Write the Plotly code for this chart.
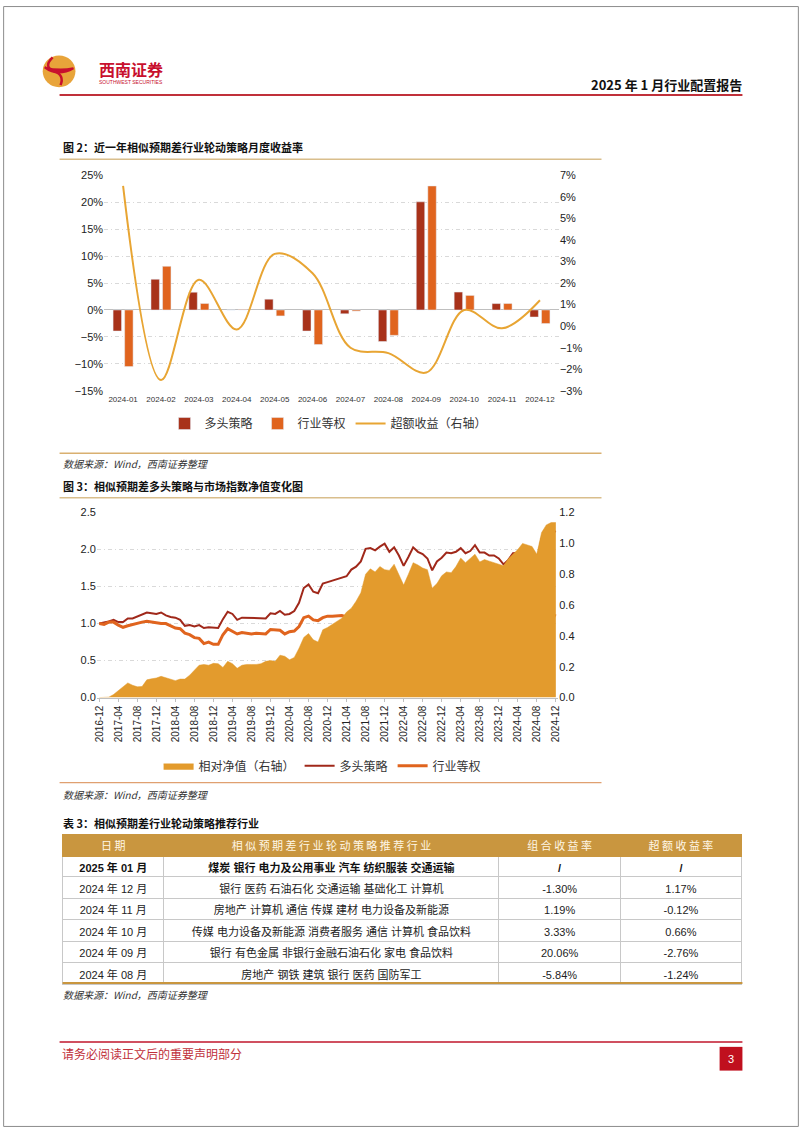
import plotly.graph_objects as go
import pandas as pd

W, H = 802, 1133
def fx(x): return x / W
def fy(y): return 1 - y / H

# ---------------- Chart 1 data (figure 2) ----------------
m_labels = ["2024-01", "2024-02", "2024-03", "2024-04", "2024-05", "2024-06",
            "2024-07", "2024-08", "2024-09", "2024-10", "2024-11", "2024-12"]
long_monthly = [-3.9, 5.7, 3.3, 0.0, 2.0, -3.9, -0.7, -5.84, 20.06, 3.33, 1.19, -1.30]
equal_monthly = [-10.5, 8.1, 1.2, 0.1, -1.1, -6.4, -0.2, -4.7, 23.0, 2.7, 1.2, -2.5]
excess_monthly = [6.5, -2.5, 2.15, -0.15, 3.35, 2.45, -1.0, -1.25, -2.15, 0.75, -0.1, 1.2]

# ---------------- Chart 2 data (figure 3) ----------------
months = pd.period_range("2016-12", "2024-12", freq="M").strftime("%Y-%m").tolist()
long_nav = [
    1.00, 1.01, 1.03, 1.05, 1.02, 1.02, 1.07, 1.07, 1.10, 1.12,
    1.15, 1.14, 1.13, 1.15, 1.11, 1.09, 1.08, 1.05, 0.97, 0.98,
    0.96, 0.98, 0.94, 0.95, 0.94, 0.94, 1.06, 1.16, 1.13, 1.05,
    1.08, 1.08, 1.07, 1.07, 1.07, 1.07, 1.14, 1.13, 1.17, 1.12,
    1.13, 1.17, 1.28, 1.48, 1.53, 1.43, 1.41, 1.54, 1.56, 1.58,
    1.60, 1.63, 1.64, 1.73, 1.77, 1.84, 2.01, 2.02, 1.99, 2.04,
    2.08, 1.97, 2.03, 1.92, 1.78, 1.90, 2.03, 1.97, 1.94, 1.88,
    1.72, 1.84, 1.89, 1.96, 1.95, 1.97, 2.02, 1.95, 1.98, 2.06,
    1.96, 1.96, 1.92, 1.92, 1.88, 1.80, 1.86, 1.95, 1.95, 1.96,
    2.00, 1.91, 1.84, 2.15, 2.24, 2.27, 2.24]
equal_nav = [
    1.00, 0.99, 1.02, 1.02, 0.98, 0.95, 0.97, 0.99, 1.01, 1.02,
    1.03, 1.02, 1.00, 1.00, 1.00, 0.97, 0.94, 0.93, 0.87, 0.85,
    0.81, 0.80, 0.73, 0.75, 0.72, 0.72, 0.85, 0.93, 0.90, 0.86,
    0.88, 0.87, 0.86, 0.87, 0.87, 0.86, 0.92, 0.91, 0.91, 0.86,
    0.89, 0.90, 0.96, 1.08, 1.10, 1.05, 1.04, 1.08, 1.10, 1.10,
    1.10, 1.11, 1.09, 1.11, 1.12, 1.12, 1.14, 1.13, 1.19, 1.18,
    1.24, 1.17, 1.19, 1.12, 1.01, 1.08, 1.12, 1.10, 1.07, 1.04,
    0.99, 1.08, 1.07, 1.13, 1.14, 1.12, 1.09, 1.11, 1.14, 1.09,
    1.07, 1.05, 1.04, 1.05, 1.02, 0.93, 0.98, 0.99, 0.99, 0.97,
    0.95, 0.94, 0.90, 1.06, 1.11, 1.13, 1.10]
relative_nav = [
    0.0, 0.0, 0.003, 0.02, 0.045, 0.075, 0.095, 0.08, 0.07, 0.072,
    0.115, 0.122, 0.127, 0.138, 0.13, 0.12, 0.11, 0.12, 0.12, 0.145,
    0.18, 0.21, 0.215, 0.21, 0.222, 0.22, 0.196, 0.235, 0.22, 0.19,
    0.21, 0.215, 0.215, 0.215, 0.22, 0.235, 0.24, 0.235, 0.275, 0.268,
    0.245, 0.26, 0.32, 0.39, 0.415, 0.375, 0.36, 0.44, 0.455, 0.475,
    0.495, 0.515, 0.555, 0.58, 0.625, 0.68, 0.80, 0.835, 0.815, 0.85,
    0.83, 0.825, 0.865, 0.80, 0.73, 0.80, 0.875, 0.86, 0.84, 0.83,
    0.71, 0.74, 0.79, 0.815, 0.81, 0.85, 0.905, 0.875, 0.90, 0.93,
    0.88, 0.895, 0.885, 0.875, 0.86, 0.855, 0.90, 0.93, 0.96, 1.0,
    0.99, 0.98, 0.93, 1.07, 1.12, 1.135, 1.135]

# ---------------- Table data ----------------
tbl_header = ["日 期", "相 似 预 期 差 行 业 轮 动 策 略 推 荐 行 业", "组 合 收 益 率", "超 额 收 益 率"]
tbl_dates = ["2025 年 01 月", "2024 年 12 月", "2024 年 11 月", "2024 年 10 月", "2024 年 09 月", "2024 年 08 月"]
tbl_industries = ["煤炭 银行 电力及公用事业 汽车 纺织服装 交通运输",
                  "银行 医药 石油石化 交通运输 基础化工 计算机",
                  "房地产 计算机 通信 传媒 建材 电力设备及新能源",
                  "传媒 电力设备及新能源 消费者服务 通信 计算机 食品饮料",
                  "银行 有色金属 非银行金融石油石化 家电 食品饮料",
                  "房地产 钢铁 建筑 银行 医药 国防军工"]
tbl_port = ["/", "-1.30%", "1.19%", "3.33%", "20.06%", "-5.84%"]
tbl_excess = ["/", "1.17%", "-0.12%", "0.66%", "-2.76%", "-1.24%"]

DARK = "#A8321A"
ORANGE = "#E0641E"
GOLDLINE = "#E8A533"
AREA = "#E39B2D"
HEADER_FILL = "#C9963F"
GRIDLINE = "#C8C8C8"
FONT = "Liberation Sans, Noto Sans CJK SC"
CJK = "Noto Sans CJK SC"

fig = go.Figure()

# chart 1
fig.add_trace(go.Bar(x=m_labels, y=long_monthly, name="多头策略", marker_color=DARK,
                     xaxis="x", yaxis="y", legend="legend"))
fig.add_trace(go.Bar(x=m_labels, y=equal_monthly, name="行业等权", marker_color=ORANGE,
                     xaxis="x", yaxis="y", legend="legend"))
fig.add_trace(go.Scatter(x=m_labels, y=excess_monthly, name="超额收益（右轴）", mode="lines",
                         line=dict(color=GOLDLINE, width=2, shape="spline", smoothing=1.0),
                         xaxis="x", yaxis="y2", legend="legend"))

# chart 2
fig.add_trace(go.Scatter(x=months, y=relative_nav, name="相对净值（右轴）", mode="lines",
                         fill="tozeroy", fillcolor=AREA, line=dict(color=AREA, width=0.5),
                         xaxis="x2", yaxis="y4", legend="legend2"))
fig.add_trace(go.Scatter(x=months, y=long_nav, name="多头策略", mode="lines",
                         line=dict(color="#A0281A", width=2), xaxis="x2", yaxis="y3", legend="legend2"))
fig.add_trace(go.Scatter(x=months, y=equal_nav, name="行业等权", mode="lines",
                         line=dict(color=ORANGE, width=3), xaxis="x2", yaxis="y3", legend="legend2"))

# table: header + bold first row
col_w = [102, 337, 122, 122]
cols = [tbl_dates, tbl_industries, tbl_port, tbl_excess]
fig.add_trace(go.Table(
    domain=dict(x=[fx(60), fx(745)], y=[fy(882), fy(837)]),
    columnwidth=col_w,
    header=dict(values=tbl_header, fill_color=HEADER_FILL, align="center",
                font=dict(family=CJK, size=11, color="#FFF6E6"), height=22,
                line=dict(color=HEADER_FILL, width=1)),
    cells=dict(values=[[c[0]] for c in cols], fill_color="white",
               align="center", font=dict(family=FONT, size=11, color="#111", weight="bold"),
               height=21, line=dict(color=GRIDLINE, width=1)),
))
# remaining rows (second row rendered as this table's top row, styled like a body row)
fig.add_trace(go.Table(
    domain=dict(x=[fx(60), fx(745)], y=[fy(995), fy(880)]),
    columnwidth=col_w,
    header=dict(values=[c[1] for c in cols], fill_color="white", align="center",
                font=dict(family=FONT, size=11, color="#222"), height=21.5,
                line=dict(color=GRIDLINE, width=1)),
    cells=dict(values=[c[2:] for c in cols], fill_color="white",
               align="center", font=dict(family=FONT, size=11, color="#222"),
               height=21.5, line=dict(color=GRIDLINE, width=1)),
))

grid = dict(showgrid=True, gridcolor="#D9D9D9", griddash="4px,3px,1px,3px", gridwidth=1)
fig.update_layout(
    width=W, height=H, autosize=False, margin=dict(l=0, r=0, t=0, b=0),
    paper_bgcolor="white", plot_bgcolor="rgba(0,0,0,0)",
    font=dict(family=FONT, color="#222"),
    barmode="group", bargap=0.39, bargroupgap=0.27,
    xaxis=dict(domain=[fx(101.9), fx(560.1)], anchor="y", type="category",
               range=[-0.5, 11.5], showgrid=False, showline=False, ticks="",
               tickfont=dict(size=8, color="#333"), ticklabelstandoff=2),
    yaxis=dict(domain=[fy(389), fy(171)], anchor="x", range=[-15, 25], dtick=5,
               ticksuffix="%", tickfont=dict(size=11, color="#222"), zeroline=True,
               zerolinecolor="#BFBFBF", zerolinewidth=1, **grid),
    yaxis2=dict(overlaying="y", side="right", anchor="x", range=[-3, 7], dtick=1,
                ticksuffix="%", tickfont=dict(size=11, color="#222"), showgrid=False, zeroline=False),
    xaxis2=dict(domain=[fx(94.6), fx(559.4)], anchor="y3", type="category",
                range=[-0.5, 96.5], tickvals=months[::4], tickangle=-90,
                tickfont=dict(size=10, color="#222"), showline=True, linecolor="#BFBFBF",
                ticks="outside", ticklen=3, tickcolor="#BFBFBF", showgrid=False),
    yaxis3=dict(domain=[fy(699), fy(512)], anchor="x2", range=[0, 2.5], dtick=0.5,
                tickformat=".1f", tickfont=dict(size=11, color="#222"), zeroline=False, **grid),
    yaxis4=dict(overlaying="y3", side="right", anchor="x2", range=[0, 1.2], dtick=0.2,
                tickformat=".1f", tickfont=dict(size=11, color="#222"), showgrid=False, zeroline=False),
    legend=dict(orientation="h", x=fx(328), xanchor="center", y=fy(422), yanchor="middle",
                font=dict(family=CJK, size=12, color="#333"), itemwidth=30, bgcolor="rgba(0,0,0,0)"),
    legend2=dict(orientation="h", x=fx(322), xanchor="center", y=fy(768), yanchor="middle",
                 font=dict(family=CJK, size=12, color="#333"), itemwidth=30, bgcolor="rgba(0,0,0,0)"),
)

shapes = []
def hline(y, x0, x1, color, width=1):
    shapes.append(dict(type="line", xref="paper", yref="paper", x0=fx(x0), x1=fx(x1),
                       y0=fy(y), y1=fy(y), line=dict(color=color, width=width)))

shapes.append(dict(type="rect", xref="paper", yref="paper", x0=0.0008, x1=0.9992, y0=0.0005, y1=0.9995,
                   line=dict(color="#8C8C8C", width=1)))
hline(90, 57, 745, "#C0303A", 2)
hline(1047, 57, 745, "#D05060", 2)
hline(155, 57, 603, "#D9BE8C", 1.5)
hline(452, 57, 603, "#D9B070", 1.5)
hline(497, 57, 603, "#D9BE8C", 1.5)
hline(785, 57, 603, "#E0A070", 1.2)
hline(987.5, 60, 745, HEADER_FILL, 2)
shapes.append(dict(type="rect", xref="paper", yref="paper", x0=fx(722), x1=fx(745),
                   y0=fy(1076), y1=fy(1052), fillcolor="#C0101E", line=dict(width=0)))
shapes.append(dict(type="circle", xref="paper", yref="paper", x0=fx(40), x1=fx(73),
                   y0=fy(82), y1=fy(50), fillcolor="#E8A43A", line=dict(width=0)))
shapes.append(dict(type="path", xref="paper", yref="paper",
                   path=f"M {fx(42)},{fy(62)} Q {fx(55)},{fy(72)} {fx(71)},{fy(63)} "
                        f"Q {fx(56)},{fy(66)} {fx(42)},{fy(62)} Z",
                   fillcolor="#C8102E", line=dict(color="#C8102E", width=2)))
shapes.append(dict(type="path", xref="paper", yref="paper",
                   path=f"M {fx(50)},{fy(52)} Q {fx(40)},{fy(62)} {fx(52)},{fy(66)} "
                        f"Q {fx(62)},{fy(70)} {fx(58)},{fy(80)}",
                   line=dict(color="#C8102E", width=2.5)))
fig.update_layout(shapes=shapes)

ann = []
def text(x, y, s, size=11, color="#222", family=CJK, xanchor="left", yanchor="middle"):
    ann.append(dict(x=fx(x), y=fy(y), xref="paper", yref="paper", text=s, showarrow=False,
                    xanchor=xanchor, yanchor=yanchor, font=dict(size=size, color=color, family=family)))

text(95, 64, "<b>西南证券</b>", size=16, color="#C8102E")
text(95, 77, "SOUTHWEST SECURITIES", size=5, color="#C8102E", family="Liberation Sans")
text(747, 79, "<b>2025 年 1 月行业配置报告</b>", size=13, color="#111", xanchor="right")
text(58, 143, "<b>图 2：近一年相似预期差行业轮动策略月度收益率</b>", size=11, color="#111")
text(58, 462, "<i>数据来源：Wind，西南证券整理</i>", size=10, color="#333")
text(58, 485, "<b>图 3：相似预期差多头策略与市场指数净值变化图</b>", size=11, color="#111")
text(58, 797, "<i>数据来源：Wind，西南证券整理</i>", size=10, color="#333")
text(58, 826, "<b>表 3：相似预期差行业轮动策略推荐行业</b>", size=11, color="#111")
text(58, 999, "<i>数据来源：Wind，西南证券整理</i>", size=10, color="#333")
text(57, 1059, "请务必阅读正文后的重要声明部分", size=12, color="#C0303A")
text(733.5, 1064, "3", size=11, color="white", family="Liberation Sans", xanchor="center")
fig.update_layout(annotations=ann)

fig.write_html("out.html", config={"displayModeBar": False},
               post_script="document.body.style.margin='0';document.body.style.padding='0';"
                           "document.documentElement.style.overflow='hidden';")
